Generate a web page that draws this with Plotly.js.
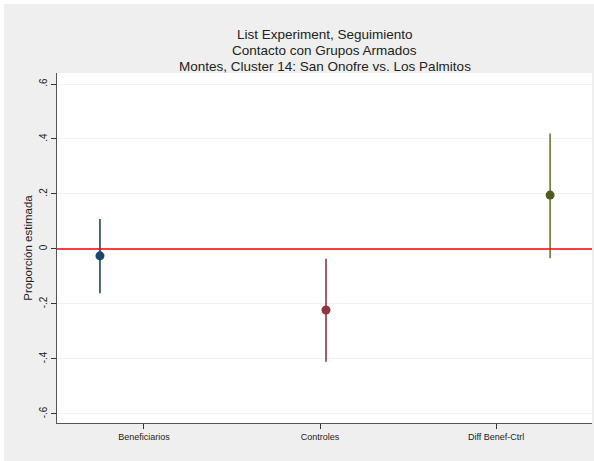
<!DOCTYPE html>
<html>
<head>
<meta charset="utf-8">
<script src="https://cdn.plot.ly/plotly-3.0.1.min.js"></script>
<style>
html,body{margin:0;padding:0;background:#ffffff;}
#chart{position:absolute;left:4px;top:4px;width:590px;height:457px;}
</style>
</head>
<body>
<div id="chart"></div>
<script>
// Data
var categories = ["Beneficiarios", "Controles", "Diff Benef-Ctrl"];
var tickPositions = [1, 2, 3];
var pointPositions = [0.75, 2.034, 3.307];
var estimates = [-0.025, -0.222, 0.196];
var ciLow = [-0.161, -0.410, -0.034];
var ciHigh = [0.109, -0.036, 0.420];
var yTickVals = [-0.6, -0.4, -0.2, 0, 0.2, 0.4, 0.6];
var yTickText = ["-.6", "-.4", "-.2", "0", ".2", ".4", ".6"];
var titleLines = ["List Experiment, Seguimiento", "Contacto con Grupos Armados", "Montes, Cluster 14: San Onofre vs. Los Palmitos"];
var colors = ["#1a476f", "#90353b", "#6b7a2a"];
var markerColors = ["#1a476f", "#90353b", "#4f5a1e"];

var traces = categories.map(function(c, i) {
  return {
    type: "scatter",
    mode: "markers",
    name: c,
    x: [pointPositions[i]],
    y: [estimates[i]],
    marker: {color: markerColors[i], size: 9},
    error_y: {
      type: "data",
      symmetric: false,
      array: [ciHigh[i] - estimates[i]],
      arrayminus: [estimates[i] - ciLow[i]],
      color: colors[i],
      thickness: 1.6,
      width: 0
    },
    showlegend: false,
    hoverinfo: "x+y"
  };
});

// plot area: 350px tall; title line centres (window px); plot top at 73
var plotTop = 73, plotH = 350;
var lineCentres = [34.5, 50.5, 66.5];
var annotations = titleLines.map(function(t, i) {
  return {
    text: t,
    xref: "paper", x: 0.5, xanchor: "center",
    yref: "paper", y: 1 + (plotTop - lineCentres[i]) / plotH, yanchor: "middle",
    showarrow: false,
    borderpad: 0,
    font: {size: 13.5, color: "#222"}
  };
});

var layout = {
  width: 590,
  height: 457,
  paper_bgcolor: "#efefef",
  plot_bgcolor: "#ffffff",
  margin: {l: 53, r: 2, t: 69, b: 38},
  font: {family: "Liberation Sans, Arial, sans-serif", color: "#222"},
  annotations: annotations,
  xaxis: {
    range: [0.506, 3.545],
    tickmode: "array",
    tickvals: tickPositions,
    ticktext: categories,
    ticks: "outside",
    ticklen: 5,
    tickcolor: "#333",
    tickfont: {size: 9, color: "#222"},
    showgrid: false,
    zeroline: false,
    showline: true,
    linecolor: "#555",
    linewidth: 1,
    fixedrange: true
  },
  yaxis: {
    range: [-0.633, 0.64],
    tickmode: "array",
    tickvals: yTickVals,
    ticktext: yTickText,
    tickangle: -90,
    ticks: "outside",
    ticklen: 5,
    tickcolor: "#333",
    tickfont: {size: 10, color: "#222"},
    showgrid: true,
    gridcolor: "#f1f1f1",
    gridwidth: 1,
    zeroline: false,
    showline: true,
    linecolor: "#555",
    linewidth: 1,
    title: {text: "Proporción estimada", font: {size: 11.5, color: "#222"}, standoff: 2},
    fixedrange: true
  },
  shapes: [{
    type: "line",
    xref: "paper", x0: 0, x1: 1,
    yref: "y", y0: 0, y1: 0,
    line: {color: "#ff0000", width: 1.5},
    layer: "above"
  }]
};

Plotly.newPlot("chart", traces, layout, {displayModeBar: false, staticPlot: true});
</script>
</body>
</html>
